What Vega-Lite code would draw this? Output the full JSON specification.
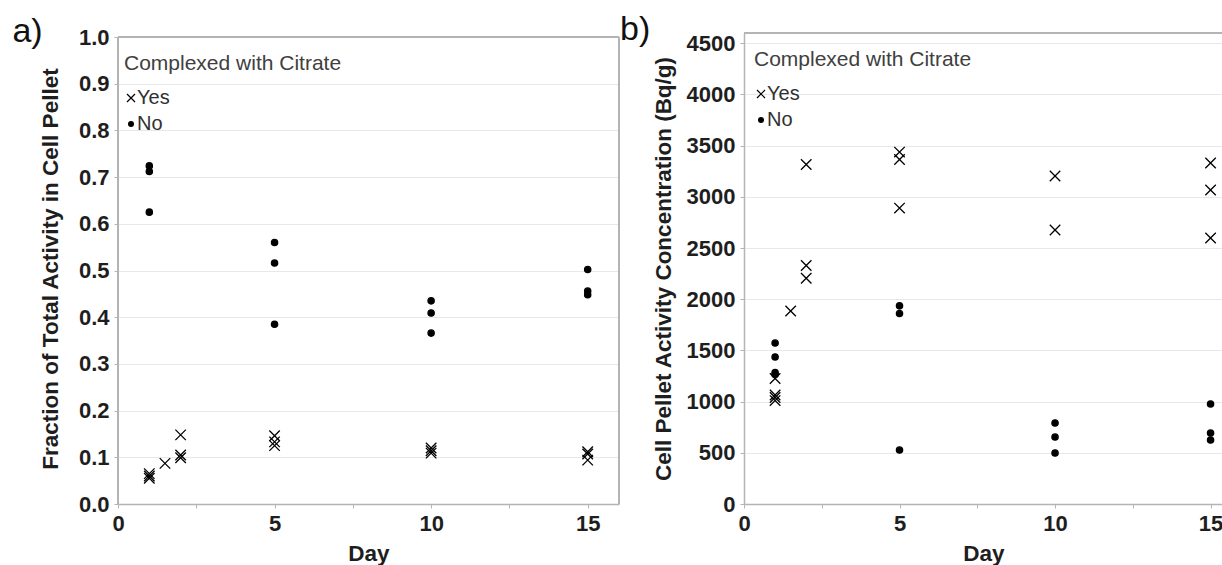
{
  "$schema": "https://vega.github.io/schema/vega-lite/v6.json",
  "background": "white",
  "padding": {"left": 12, "top": 13, "right": 0, "bottom": 0},
  "spacing": 0,
  "config": {
    "font": "Liberation Sans",
    "view": {"stroke": null},
    "axis": {
      "labelFont": "Liberation Sans",
      "labelFontSize": 22,
      "labelFontWeight": "bold",
      "labelColor": "#1e1e1e",
      "titleFont": "Liberation Sans",
      "titleFontSize": 22.5,
      "titleFontWeight": "bold",
      "titleColor": "#1e1e1e",
      "domainColor": "#b4b4b4",
      "domainWidth": 1.5,
      "tickColor": "#b4b4b4",
      "tickSize": 4,
      "grid": false
    },
    "axisY": {"grid": true, "gridColor": "#e8e8e8", "gridWidth": 1.2, "labelPadding": 5},
    "axisX": {"labelPadding": 5, "titlePadding": 8, "labelFlush": false},
    "legend": {
      "titleFont": "Liberation Sans",
      "titleFontSize": 21,
      "titleFontWeight": "normal",
      "titleColor": "#404040",
      "titleLimit": 500,
      "labelFont": "Liberation Sans",
      "labelFontSize": 20,
      "labelColor": "#303030",
      "symbolSize": 64,
      "symbolStrokeWidth": 1.2,
      "symbolOffset": -3,
      "rowPadding": 6,
      "titlePadding": 14,
      "labelOffset": -4
    },
    "title": {"font": "Liberation Sans", "fontSize": 34, "fontWeight": "normal", "color": "#111", "anchor": "start", "frame": "bounds"}
  },
  "datasets": {
    "fraction": [
      {"Day": 1, "Value": 0.065, "Citrate": "Yes"},
      {"Day": 1, "Value": 0.06, "Citrate": "Yes"},
      {"Day": 1, "Value": 0.055, "Citrate": "Yes"},
      {"Day": 1.5, "Value": 0.087, "Citrate": "Yes"},
      {"Day": 2, "Value": 0.148, "Citrate": "Yes"},
      {"Day": 2, "Value": 0.105, "Citrate": "Yes"},
      {"Day": 2, "Value": 0.099, "Citrate": "Yes"},
      {"Day": 5, "Value": 0.146, "Citrate": "Yes"},
      {"Day": 5, "Value": 0.133, "Citrate": "Yes"},
      {"Day": 5, "Value": 0.125, "Citrate": "Yes"},
      {"Day": 10, "Value": 0.12, "Citrate": "Yes"},
      {"Day": 10, "Value": 0.114, "Citrate": "Yes"},
      {"Day": 10, "Value": 0.109, "Citrate": "Yes"},
      {"Day": 15, "Value": 0.112, "Citrate": "Yes"},
      {"Day": 15, "Value": 0.107, "Citrate": "Yes"},
      {"Day": 15, "Value": 0.094, "Citrate": "Yes"},
      {"Day": 1, "Value": 0.724, "Citrate": "No"},
      {"Day": 1, "Value": 0.712, "Citrate": "No"},
      {"Day": 1, "Value": 0.625, "Citrate": "No"},
      {"Day": 5, "Value": 0.56, "Citrate": "No"},
      {"Day": 5, "Value": 0.516, "Citrate": "No"},
      {"Day": 5, "Value": 0.385, "Citrate": "No"},
      {"Day": 10, "Value": 0.435, "Citrate": "No"},
      {"Day": 10, "Value": 0.409, "Citrate": "No"},
      {"Day": 10, "Value": 0.366, "Citrate": "No"},
      {"Day": 15, "Value": 0.502, "Citrate": "No"},
      {"Day": 15, "Value": 0.456, "Citrate": "No"},
      {"Day": 15, "Value": 0.448, "Citrate": "No"}
    ],
    "concentration": [
      {"Day": 1, "Value": 1225, "Citrate": "Yes"},
      {"Day": 1, "Value": 1065, "Citrate": "Yes"},
      {"Day": 1, "Value": 1040, "Citrate": "Yes"},
      {"Day": 1, "Value": 1010, "Citrate": "Yes"},
      {"Day": 1.5, "Value": 1885, "Citrate": "Yes"},
      {"Day": 2, "Value": 3315, "Citrate": "Yes"},
      {"Day": 2, "Value": 2330, "Citrate": "Yes"},
      {"Day": 2, "Value": 2205, "Citrate": "Yes"},
      {"Day": 5, "Value": 3437, "Citrate": "Yes"},
      {"Day": 5, "Value": 3365, "Citrate": "Yes"},
      {"Day": 5, "Value": 2890, "Citrate": "Yes"},
      {"Day": 10, "Value": 3203, "Citrate": "Yes"},
      {"Day": 10, "Value": 2676, "Citrate": "Yes"},
      {"Day": 15, "Value": 3330, "Citrate": "Yes"},
      {"Day": 15, "Value": 3066, "Citrate": "Yes"},
      {"Day": 15, "Value": 2598, "Citrate": "Yes"},
      {"Day": 1, "Value": 1572, "Citrate": "No"},
      {"Day": 1, "Value": 1436, "Citrate": "No"},
      {"Day": 1, "Value": 1285, "Citrate": "No"},
      {"Day": 1, "Value": 1265, "Citrate": "No"},
      {"Day": 5, "Value": 1935, "Citrate": "No"},
      {"Day": 5, "Value": 1860, "Citrate": "No"},
      {"Day": 5, "Value": 527, "Citrate": "No"},
      {"Day": 10, "Value": 791, "Citrate": "No"},
      {"Day": 10, "Value": 654, "Citrate": "No"},
      {"Day": 10, "Value": 498, "Citrate": "No"},
      {"Day": 15, "Value": 977, "Citrate": "No"},
      {"Day": 15, "Value": 693, "Citrate": "No"},
      {"Day": 15, "Value": 625, "Citrate": "No"}
    ]
  },
  "hconcat": [
    {
      "width": 501,
      "height": 471,
      "title": {"text": "a)", "dx": -27, "dy": 27},
      "data": {"name": "fraction"},
      "layer": [
        {
          "mark": {"type": "rule", "color": "#b4b4b4", "strokeWidth": 1.5},
          "encoding": {"y": {"datum": 1, "type": "quantitative"}}
        },
        {
          "mark": {"type": "rule", "color": "#b4b4b4", "strokeWidth": 1.5},
          "encoding": {"x": {"datum": 16, "type": "quantitative"}, "y": {"datum": 0, "type": "quantitative"}, "y2": {"datum": 1}}
        },
        {
          "mark": {"type": "rule", "color": "#b4b4b4", "strokeWidth": 1.5},
          "encoding": {"x": {"datum": 0, "type": "quantitative"}, "y": {"datum": 0, "type": "quantitative"}, "y2": {"datum": 1}}
        },
        {
          "mark": {"type": "point", "filled": true, "stroke": "black", "strokeWidth": 1.3, "size": 110, "opacity": 1},
          "encoding": {
            "x": {
              "field": "Day", "type": "quantitative",
              "scale": {"domain": [0, 16], "nice": false},
              "axis": {"values": [0, 2.5, 5, 7.5, 10, 12.5, 15], "labelExpr": "datum.value % 5 === 0 ? datum.label : ''", "title": "Day"}
            },
            "y": {
              "field": "Value", "type": "quantitative",
              "scale": {"domain": [0, 1.0086], "nice": false},
              "axis": {
                "values": [0, 0.1, 0.2, 0.3, 0.4, 0.5, 0.6, 0.7, 0.8, 0.9, 1.0],
                "format": ".1f",
                "domain": false,
                "titlePadding": 16,
                "title": "Fraction of Total Activity in Cell Pellet",
                "encode": {"labels": {"update": {"dy": {"signal": "datum.value === 1 ? 7 : 2"}}}}
              }
            },
            "shape": {
              "field": "Citrate", "type": "nominal",
              "scale": {"domain": ["Yes", "No"], "range": ["M-1,-1L1,1M-1,1L1,-1", "M0.6,0A0.6,0.6 0 1,1 -0.6,0A0.6,0.6 0 1,1 0.6,0Z"]},
              "legend": {"title": "Complexed with Citrate", "orient": "none", "legendX": 6, "legendY": 20, "encode": {"symbols": {"update": {"size": {"value": 64}}}}}
            },
            "fill": {
              "field": "Citrate", "type": "nominal",
              "scale": {"domain": ["Yes", "No"], "range": ["transparent", "black"]},
              "legend": {"title": "Complexed with Citrate", "orient": "none", "legendX": 6, "legendY": 20, "encode": {"symbols": {"update": {"size": {"value": 64}}}}}
            }
          }
        }
      ]
    },
    {
      "width": 479,
      "height": 471,
      "title": {"text": "b)", "dx": -32, "dy": 19},
      "data": {"name": "concentration"},
      "layer": [
        {
          "mark": {"type": "rule", "color": "#b4b4b4", "strokeWidth": 1.5},
          "encoding": {"y": {"datum": 4600, "type": "quantitative"}}
        },
        {
          "mark": {"type": "point", "filled": true, "stroke": "black", "strokeWidth": 1.3, "size": 110, "opacity": 1},
          "encoding": {
            "x": {
              "field": "Day", "type": "quantitative",
              "scale": {"domain": [0, 15.4], "nice": false},
              "axis": {"values": [0, 2.5, 5, 7.5, 10, 12.5, 15], "labelExpr": "datum.value % 5 === 0 ? datum.label : ''", "title": "Day"}
            },
            "y": {
              "field": "Value", "type": "quantitative",
              "scale": {"domain": [0, 4600], "nice": false},
              "axis": {
                "values": [0, 500, 1000, 1500, 2000, 2500, 3000, 3500, 4000, 4500],
                "format": "d",
                "titlePadding": 11,
                "title": "Cell Pellet Activity Concentration (Bq/g)",
                "encode": {"labels": {"update": {"dy": {"value": 1}}}}
              }
            },
            "shape": {
              "field": "Citrate", "type": "nominal",
              "scale": {"domain": ["Yes", "No"], "range": ["M-1,-1L1,1M-1,1L1,-1", "M0.6,0A0.6,0.6 0 1,1 -0.6,0A0.6,0.6 0 1,1 0.6,0Z"]},
              "legend": {"title": "Complexed with Citrate", "orient": "none", "legendX": 10, "legendY": 16, "encode": {"symbols": {"update": {"size": {"value": 64}}}}}
            },
            "fill": {
              "field": "Citrate", "type": "nominal",
              "scale": {"domain": ["Yes", "No"], "range": ["transparent", "black"]},
              "legend": {"title": "Complexed with Citrate", "orient": "none", "legendX": 10, "legendY": 16, "encode": {"symbols": {"update": {"size": {"value": 64}}}}}
            }
          }
        }
      ]
    }
  ],
  "resolve": {"scale": {"shape": "independent", "fill": "independent"}, "legend": {"shape": "independent", "fill": "independent"}}
}
